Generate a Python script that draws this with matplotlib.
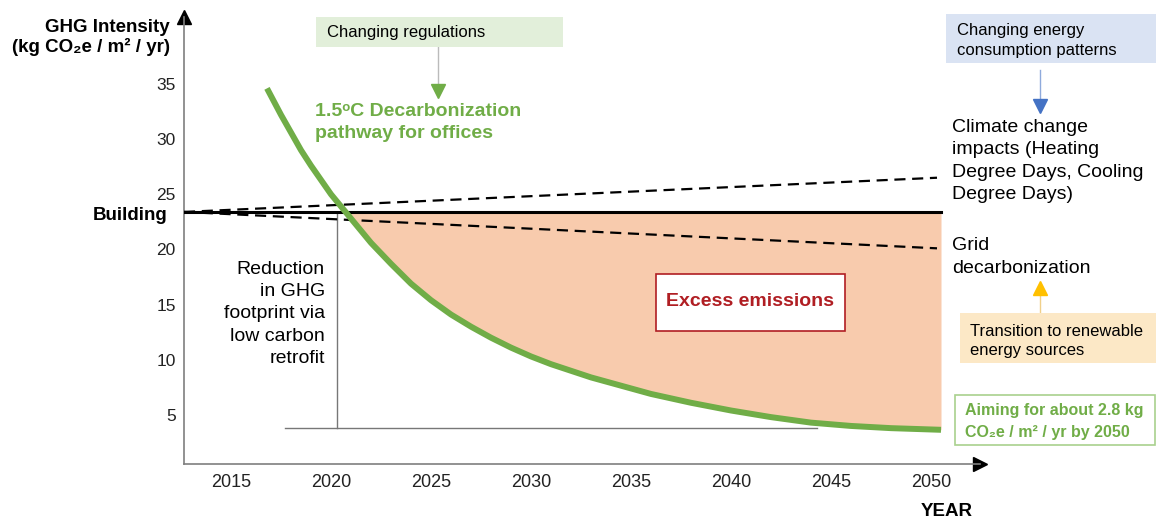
import matplotlib
matplotlib.use("Agg")
import matplotlib.pyplot as plt
import numpy as np
from matplotlib.patches import Rectangle
from matplotlib.lines import Line2D

plt.rcParams["font.family"] = ["Liberation Sans", "DejaVu Sans"]

# 1.5C decarbonization pathway for offices
path_years = [2016.8, 2017.5, 2018, 2018.5, 2019, 2019.5, 2020, 2020.5, 2021,
              2022, 2023, 2024, 2025, 2026, 2027, 2028, 2029, 2030, 2031,
              2032, 2033, 2034, 2036, 2038, 2040, 2042, 2044, 2046, 2048, 2050.5]
path_ghg = [34.6, 32.2, 30.6, 29.0, 27.6, 26.3, 25.0, 23.9, 22.8,
            20.6, 18.7, 16.9, 15.4, 14.1, 13.0, 12.0, 11.1, 10.3, 9.6,
            9.0, 8.4, 7.9, 6.9, 6.1, 5.4, 4.8, 4.3, 4.0, 3.8, 3.65]

# building baseline and the two scenario lines
building_years = [2012.65, 2050.5]
building_ghg = [23.4, 23.4]
scenario_years = [2012.65, 2050.3]
climate_ghg = [23.4, 26.5]
grid_ghg = [23.4, 20.1]

# retrofit bracket
retrofit_year = 2020.3
retrofit_floor = 3.8
floor_years = [2017.7, 2044.3]

year_ticks = [2015, 2020, 2025, 2030, 2035, 2040, 2045, 2050]
ghg_ticks = [5, 10, 15, 20, 25, 30, 35]

GREEN = "#70AD47"
PEACH = "#F8CBAD"
RED = "#B01E23"

W, H = 1156, 523
fig = plt.figure(figsize=(W / 100, H / 100), dpi=100)


def fx(x):
    return x / W


def fy(y):
    return 1 - y / H


ax = fig.add_axes([fx(184), fy(464), (980 - 184) / W, (464 - 17) / H])
ax.set_xlim(2012.65, 2052.45)
ax.set_ylim(0.55, 41.07)

py = np.array(path_ghg)
ax.fill_between(path_years, py, building_ghg[0], where=py <= building_ghg[0],
                interpolate=True, color=PEACH, lw=0, zorder=1)
ax.plot(path_years, path_ghg, color=GREEN, lw=4.3, solid_capstyle="butt", zorder=4)

ax.plot(building_years, building_ghg, color="black", lw=2.2, zorder=3)
ax.plot(scenario_years, climate_ghg, color="black", lw=1.6, ls=(0, (5, 3)), zorder=3)
ax.plot(scenario_years, grid_ghg, color="black", lw=1.6, ls=(0, (5, 3)), zorder=3)

ax.plot([retrofit_year, retrofit_year], [building_ghg[0], retrofit_floor],
        color="#777777", lw=1.0, zorder=2)
ax.plot(floor_years, [retrofit_floor, retrofit_floor], color="#777777", lw=1.0, zorder=2)

for s in ["top", "right"]:
    ax.spines[s].set_visible(False)
for s in ["left", "bottom"]:
    ax.spines[s].set_color("#7f7f7f")
    ax.spines[s].set_linewidth(1.2)
ax.plot([1], [0], marker=">", ms=10, color="black", transform=ax.transAxes, clip_on=False)
ax.plot([0], [1], marker="^", ms=10, color="black", transform=ax.transAxes, clip_on=False)

ax.set_xticks(year_ticks)
ax.set_yticks(ghg_ticks)
ax.tick_params(axis="x", length=0, labelsize=13, pad=7, labelcolor="#222222")
ax.tick_params(axis="y", length=0, labelsize=12.5, pad=6, labelcolor="#222222")

# axis titles
fig.text(fx(170), fy(27), "GHG Intensity", ha="right", va="center",
         fontsize=13.5, fontweight="bold")
fig.text(fx(170), fy(47), "(kg CO₂e / m² / yr)", ha="right", va="center",
         fontsize=13.5, fontweight="bold")
fig.text(fx(168), fy(215), "Building", ha="right", va="center",
         fontsize=13.5, fontweight="bold")
fig.text(fx(947), fy(512), "YEAR", ha="center", va="center",
         fontsize=13.5, fontweight="bold")


def box(x0, y0, x1, y1, face, edge="none", lw=0):
    fig.add_artist(Rectangle((fx(x0), fy(y1)), fx(x1) - fx(x0), fy(y0) - fy(y1),
                             transform=fig.transFigure, facecolor=face,
                             edgecolor=edge, lw=lw, zorder=5))


def arrow(x, y0, y1, line_c, head_c, head_y, marker):
    fig.add_artist(Line2D([fx(x), fx(x)], [fy(y0), fy(y1)], color=line_c, lw=1.0,
                          transform=fig.transFigure))
    fig.add_artist(Line2D([fx(x)], [fy(head_y)], marker=marker, ms=10, color=head_c,
                          transform=fig.transFigure))


# changing regulations
box(316, 17, 563, 47, "#E2EFDA")
fig.text(fx(327), fy(33), "Changing regulations", ha="left", va="center", fontsize=12, zorder=6)
arrow(438, 47, 86, "#BBBBBB", GREEN, 91, "v")
fig.text(fx(315), fy(112), "1.5ᵒC Decarbonization", ha="left", va="center",
         fontsize=14, fontweight="bold", color=GREEN)
fig.text(fx(315), fy(134), "pathway for offices", ha="left", va="center",
         fontsize=14, fontweight="bold", color=GREEN)

# energy consumption
box(946, 14, 1156, 63, "#DAE3F3")
fig.text(fx(957), fy(30), "Changing energy", ha="left", va="center", fontsize=12, zorder=6)
fig.text(fx(957), fy(50), "consumption patterns", ha="left", va="center", fontsize=12, zorder=6)
arrow(1040, 70, 101, "#8FAADC", "#4472C4", 106, "v")

fig.text(fx(952), fy(161), "Climate change\nimpacts (Heating\nDegree Days, Cooling\nDegree Days)",
         ha="left", va="center", fontsize=14, linespacing=1.4)
fig.text(fx(952), fy(257), "Grid\ndecarbonization", ha="left", va="center",
         fontsize=14, linespacing=1.4)

# renewables
arrow(1040, 313, 292, "#F0D08A", "#FFC000", 288, "^")
box(960, 313, 1156, 363, "#FCE8C6")
fig.text(fx(970), fy(331), "Transition to renewable", ha="left", va="center", fontsize=12, zorder=6)
fig.text(fx(970), fy(351), "energy sources", ha="left", va="center", fontsize=12, zorder=6)

# target
box(955, 395, 1155, 445, "white", edge="#A9D18E", lw=1.2)
fig.text(fx(965), fy(411), "Aiming for about 2.8 kg", ha="left", va="center",
         fontsize=11.5, fontweight="bold", color=GREEN, zorder=6)
fig.text(fx(965), fy(433), "CO₂e / m² / yr by 2050", ha="left", va="center",
         fontsize=11.5, fontweight="bold", color=GREEN, zorder=6)

# excess emissions
box(656, 274, 845, 331, "white", edge=RED, lw=1.2)
fig.text(fx(750), fy(302), "Excess emissions", ha="center", va="center",
         fontsize=14, fontweight="bold", color=RED, zorder=6)

fig.text(fx(325), fy(314), "Reduction\nin GHG\nfootprint via\nlow carbon\nretrofit",
         ha="right", va="center", fontsize=14, linespacing=1.4)

fig.savefig("out.png", dpi=100)
